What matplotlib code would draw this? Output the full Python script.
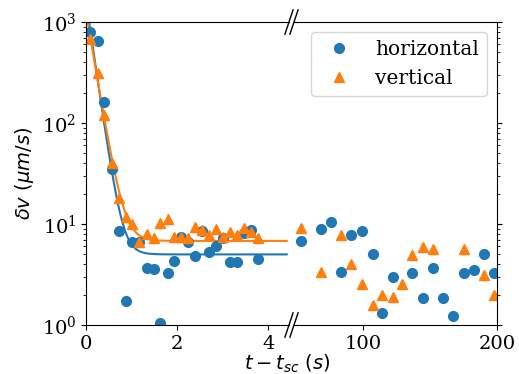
import numpy as np
import matplotlib.pyplot as plt

plt.rcParams['font.family'] = 'DejaVu Serif'
plt.rcParams['mathtext.fontset'] = 'dejavusans'
plt.rcParams['font.size'] = 14

# early times (s)
t_early = [0.09, 0.27, 0.40, 0.56, 0.73, 0.87, 1.00, 1.17, 1.33, 1.48, 1.63, 1.79, 1.94,
           2.08, 2.23, 2.39, 2.54, 2.69, 2.84, 3.00, 3.15, 3.30, 3.46, 3.61, 3.76]
h_early = [802, 646, 163, 35, 8.6, 1.72, 6.7, 6.7, 3.64, 3.59, 1.04, 3.3, 4.3,
           7.4, 6.6, 4.85, 8.5, 5.3, 6.05, 7.2, 4.24, 4.24, 8.2, 8.7, 4.5]
v_early = [679, 311, 120, 40, 18.2, 11.8, 9.9, 6.6, 7.9, 7.2, 10.2, 11.2, 7.4,
           7.4, 7.3, 9.3, 8.7, 7.8, 8.9, 7.4, 8.3, 7.8, 9.1, 8.3, 7.2]

# late times (s)
t_late_h = [53.8, 68.7, 76.4, 83.6, 91.3, 99.3, 107.2, 114.4, 122.1, 136.8, 144.8,
            152.5, 159.7, 167.4, 175.1, 183.1, 190.1, 197.8]
h_late = [6.8, 8.9, 10.5, 3.37, 7.8, 8.6, 5.0, 1.3, 2.97, 3.3, 1.87,
          3.64, 1.83, 1.23, 3.3, 3.5, 5.1, 3.3]
t_late_v = [53.8, 68.7, 83.6, 91.3, 99.3, 107.2, 114.4, 122.1, 129.1, 136.8, 144.8,
            152.5, 175.1, 190.1, 197.8]
v_late = [9.1, 3.37, 7.7, 4.0, 2.53, 1.58, 1.97, 1.88, 2.55, 4.9, 5.9,
          5.7, 5.6, 3.1, 1.97]

# exponential fits: A, tau, C
fit_h = (1620, 0.14, 5.0)
fit_v = (1250, 0.162, 6.8)
t_fit_end = 4.4

fig = plt.figure(figsize=(5.19, 3.74), dpi=100)
ax1 = fig.add_axes([86/519, 1-325/374, 203/519, 303/374])
ax2 = fig.add_axes([294/519, 1-325/374, 203/519, 303/374], sharey=ax1)

tt = np.linspace(0, t_fit_end, 300)
for fit, c in [(fit_h, 'C0'), (fit_v, 'C1')]:
    A, tau, C = fit
    ax1.plot(tt, A*np.exp(-tt/tau) + C, color=c, lw=1.5)

ax1.plot(t_early, h_early, 'o', color='C0', ms=7)
ax1.plot(t_early, v_early, '^', color='C1', ms=7)
ax2.plot(t_late_h, h_late, 'o', color='C0', ms=7, label='horizontal')
ax2.plot(t_late_v, v_late, '^', color='C1', ms=7, label='vertical')

ax1.set_yscale('log')
ax1.set_ylim(1, 1000)
ax1.set_xlim(0, 4.45)
ax2.set_xlim(48.5, 200)
ax1.set_xticks([0, 2, 4])
ax2.set_xticks([100, 200])

ax1.spines['right'].set_visible(False)
ax2.spines['left'].set_visible(False)
ax2.yaxis.tick_right()
ax2.tick_params(axis='y', which='both', labelright=False)

ax1.set_ylabel(r'$\delta v\ (\mu m/s)$', fontsize=14)
fig.text(287/519, 4/374, r'$t - t_{sc}\ (s)$', ha='center', va='baseline', fontsize=14)

# break marks
d = 0.02
kw = dict(color='k', clip_on=False, lw=1)
ax1.plot([1-d, 1+d], [-d*2, d*2], transform=ax1.transAxes, **kw)
ax1.plot([1-d, 1+d], [1-d*2, 1+d*2], transform=ax1.transAxes, **kw)
ax2.plot([-d, d], [-d*2, d*2], transform=ax2.transAxes, **kw)
ax2.plot([-d, d], [1-d*2, 1+d*2], transform=ax2.transAxes, **kw)

ax2.legend(loc='upper right', fontsize=14.5)

fig.savefig('out.png', dpi=100)
